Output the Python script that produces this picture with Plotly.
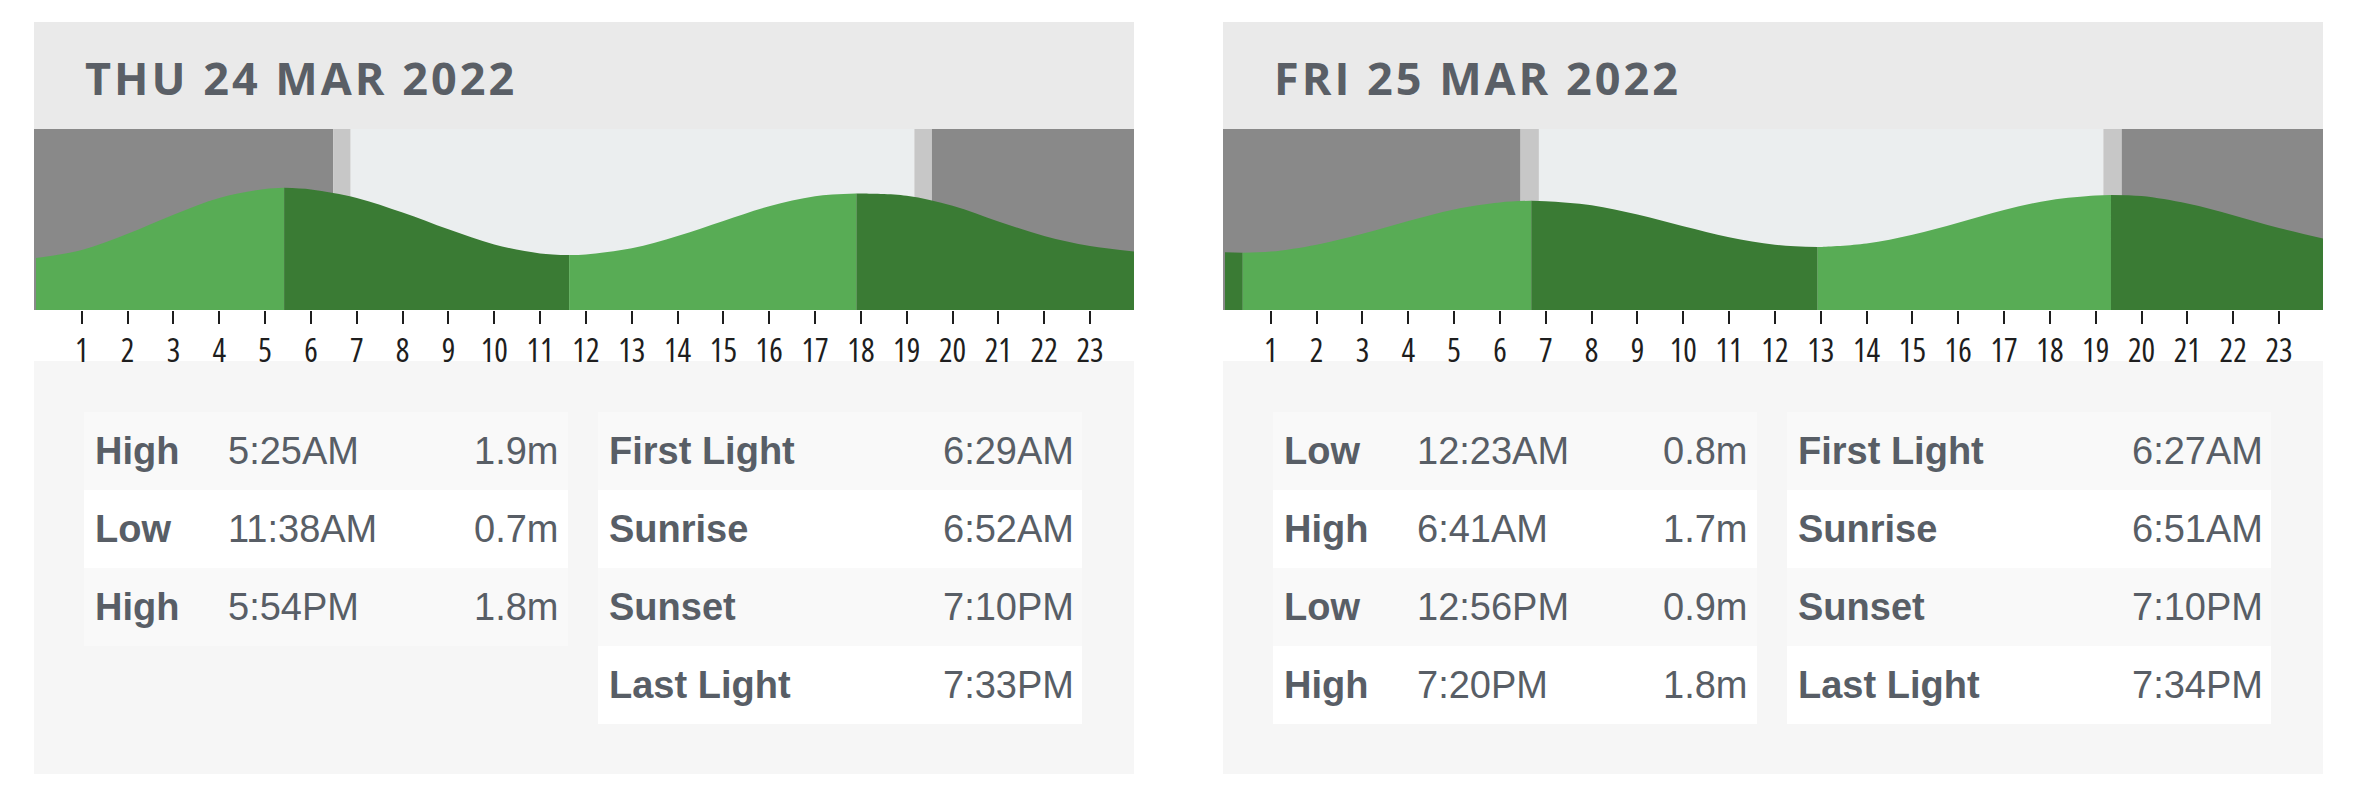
import plotly.graph_objects as go

# %%
W, H = 2364, 807

hours = list(range(1, 24))
sun_labels = ["First Light", "Sunrise", "Sunset", "Last Light"]

# thu 24 mar
thu_title = "THU 24 MAR 2022"
thu_tide_kind = ["High", "Low", "High"]
thu_tide_time = ["5:25AM", "11:38AM", "5:54PM"]
thu_tide_height = [1.9, 0.7, 1.8]
thu_sun_time = ["6:29AM", "6:52AM", "7:10PM", "7:33PM"]
# height at every hour 0..24
thu_curve = [0.65, 0.79, 1.08, 1.42, 1.72, 1.88, 1.87, 1.72, 1.46, 1.16, 0.89, 0.73,
             0.71, 0.82, 1.04, 1.31, 1.57, 1.75, 1.80, 1.76, 1.58, 1.30, 1.04, 0.86, 0.76]

# fri 25 mar
fri_title = "FRI 25 MAR 2022"
fri_tide_kind = ["Low", "High", "Low", "High"]
fri_tide_time = ["12:23AM", "6:41AM", "12:56PM", "7:20PM"]
fri_tide_height = [0.8, 1.7, 0.9, 1.8]
fri_sun_time = ["6:27AM", "6:51AM", "7:10PM", "7:34PM"]
fri_curve = [0.81, 0.82, 0.94, 1.13, 1.35, 1.55, 1.67, 1.69, 1.62, 1.46, 1.26, 1.07,
             0.94, 0.90, 0.96, 1.11, 1.32, 1.54, 1.71, 1.79, 1.78, 1.65, 1.45, 1.23, 1.04]

# %%
LIGHT, DARK = "#58AC55", "#3A7B34"
NIGHT, TWI, DAY = "#898989", "#C7C7C7", "#EBEEEF"
TXT = "#585E66"
XR = [-0.044, 23.96]
PW = 1100  # panel width px

def to_hour(t):
    hm, ampm = t[:-2], t[-2:]
    h, m = hm.split(":")
    return int(h) % 12 + (12 if ampm == "PM" else 0) + int(m) / 60

def px(x):
    return x / W

def py(y):
    return 1 - y / H

days = [
    dict(title=thu_title, kind=thu_tide_kind, time=thu_tide_time, height=thu_tide_height,
         sun=thu_sun_time, curve=thu_curve, left=34, yr=[-0.28, 2.95]),
    dict(title=fri_title, kind=fri_tide_kind, time=fri_tide_time, height=fri_tide_height,
         sun=fri_sun_time, curve=fri_curve, left=1223, yr=[-0.19, 2.94]),
]

fig = go.Figure()
shapes = []
ann = []
tick_font = dict(family="Open Sans, Noto Sans, sans-serif", size=32, color="#1e1e1e")
cell_font = dict(family="Liberation Sans, Arial, sans-serif", size=38, color=TXT)

for i, d in enumerate(days):
    xa = "x" if i == 0 else "x2"
    ya = "y" if i == 0 else "y2"
    L = d["left"]
    ymin = d["yr"][0]

    # tide area, split at each high / low
    ext_x = [to_hour(t) for t in d["time"]]
    ext = list(zip(ext_x, d["height"]))
    pts = sorted(list(zip(range(25), d["curve"])) + ext)
    cuts = [0] + [pts.index(p) for p in ext] + [len(pts) - 1]
    for a, b in zip(cuts[:-1], cuts[1:]):
        seg = pts[a:b + 1]
        if len(seg) < 2:
            continue
        sx = [p[0] for p in seg]
        sy = [p[1] for p in seg]
        col = LIGHT if sy[-1] > sy[0] else DARK
        fig.add_trace(go.Scatter(x=[sx[0], sx[-1]], y=[ymin, ymin], mode="lines",
                                 line=dict(width=0), xaxis=xa, yaxis=ya,
                                 hoverinfo="skip", showlegend=False))
        fig.add_trace(go.Scatter(x=sx, y=sy, mode="lines",
                                 line=dict(width=0, shape="spline", color=col),
                                 fill="tonexty", fillcolor=col, xaxis=xa, yaxis=ya,
                                 hoverinfo="skip", showlegend=False))

    # night / twilight / day bands
    sh = [to_hour(t) for t in d["sun"]]
    edges = [XR[0]] + sh + [XR[1]]
    for x0, x1, c in zip(edges[:-1], edges[1:], [NIGHT, TWI, DAY, TWI, NIGHT]):
        shapes.append(dict(type="rect", xref=xa, yref=ya + " domain", x0=x0, x1=x1, y0=0, y1=1,
                           fillcolor=c, line=dict(width=0), layer="below"))

    # header and table backgrounds
    shapes.append(dict(type="rect", xref="paper", yref="paper", x0=px(L), x1=px(L + PW),
                       y0=py(129), y1=py(22), fillcolor="#EAEAEA", line=dict(width=0), layer="below"))
    shapes.append(dict(type="rect", xref="paper", yref="paper", x0=px(L), x1=px(L + PW),
                       y0=py(774), y1=py(361), fillcolor="#F6F6F6", line=dict(width=0), layer="below"))
    ann.append(dict(text='<span style="letter-spacing:3px">%s</span>' % d["title"],
                    x=px(L + 49), y=py(77), xref="paper", yref="paper",
                    xanchor="left", yanchor="middle", showarrow=False,
                    font=dict(family="Open Sans, sans-serif", size=45, weight=700, color="#5A5F66")))

    # rows
    for r in range(4):
        top = 412 + 78 * r
        rc = "#F9F9F9" if r % 2 == 0 else "#FFFFFF"
        yc = py(top + 39)
        if r < len(d["kind"]):
            shapes.append(dict(type="rect", xref="paper", yref="paper", x0=px(L + 50), x1=px(L + 534),
                               y0=py(top + 78), y1=py(top), fillcolor=rc, line=dict(width=0), layer="below"))
            ann.append(dict(text="<b>%s</b>" % d["kind"][r], x=px(L + 59), y=yc, xanchor="left"))
            ann.append(dict(text=d["time"][r], x=px(L + 192), y=yc, xanchor="left"))
            ann.append(dict(text="%.1fm" % d["height"][r], x=px(L + 526), y=yc, xanchor="right"))
        shapes.append(dict(type="rect", xref="paper", yref="paper", x0=px(L + 564), x1=px(L + 1048),
                           y0=py(top + 78), y1=py(top), fillcolor=rc, line=dict(width=0), layer="below"))
        ann.append(dict(text="<b>%s</b>" % sun_labels[r], x=px(L + 573), y=yc, xanchor="left"))
        ann.append(dict(text=d["sun"][r], x=px(L + 1042), y=yc, xanchor="right"))

for a in ann:
    a.setdefault("xref", "paper")
    a.setdefault("yref", "paper")
    a.setdefault("yanchor", "middle")
    a.setdefault("showarrow", False)
    a.setdefault("font", cell_font)

# narrow tick digits, like the site's condensed labels
tick_text = ['<span style="font-stretch:75%%">%d</span>' % h for h in hours]
axis_x = dict(range=XR, tickvals=hours, ticktext=tick_text, ticks="outside",
              ticklen=13, tickwidth=2, tickcolor="#1e1e1e", tickfont=tick_font,
              ticklabelstandoff=0, showgrid=False, zeroline=False, showline=False, fixedrange=True)
axis_y = dict(domain=[py(310), py(129)], visible=False, fixedrange=True)

fig.update_layout(
    width=W, height=H,
    margin=dict(l=0, r=0, t=0, b=0),
    paper_bgcolor="white", plot_bgcolor="rgba(0,0,0,0)",
    showlegend=False,
    shapes=shapes, annotations=ann,
    xaxis=dict(axis_x, domain=[px(34), px(34 + PW)]),
    xaxis2=dict(axis_x, domain=[px(1223), px(1223 + PW)]),
    yaxis=dict(axis_y, range=days[0]["yr"]),
    yaxis2=dict(axis_y, range=days[1]["yr"]),
)

fig.write_html("out.html", config={"displayModeBar": False},
               post_script="document.body.style.margin='0';")
